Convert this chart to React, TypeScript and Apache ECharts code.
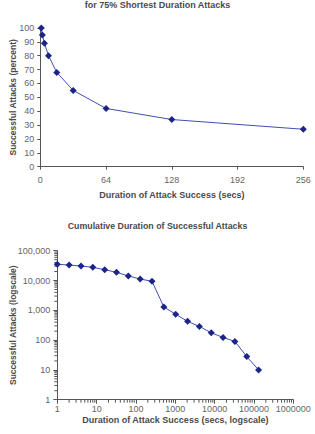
import React, { useEffect, useRef } from "react";
import * as echarts from "echarts";

// Top panel: share of successful attacks vs. duration (shortest 75%)
const durationSecs = [1, 2, 4, 8, 16, 32, 64, 128, 256];
const successPercent = [100, 95, 89, 80, 68, 55, 42, 34, 27];

// Bottom panel: cumulative duration of successful attacks (log-log)
const cumDurationSecs = [
  1, 2, 4, 8, 16, 32, 64, 128, 256, 512, 1024, 2048, 4096, 8192, 16384, 32768,
  65536, 131072,
];
const cumAttacks = [
  35000, 33000, 30700, 27700, 23000, 18800, 14200, 11200, 9400, 1290, 735, 425,
  288, 176, 123, 90, 28, 10,
];

// Log-axis minor tick values (2..9 within each decade)
const xDecades = [1, 10, 100, 1000, 10000, 100000];
const yDecades = [1, 10, 100, 1000, 10000];
const minorSteps = [2, 3, 4, 5, 6, 7, 8, 9];

const FONT = "Liberation Sans, Arial, sans-serif";
const AXIS_COLOR = "#555";
const LABEL_COLOR = "#666";
const NAME_COLOR = "#4a4a4a";
const LINE_COLOR = "#3f4fb3";
const MARKER_COLOR = "#1c2587";

const fmtThousands = (v: number) =>
  Math.round(v).toString().replace(/\B(?=(\d{3})+(?!\d))/g, ",");

export default function App() {
  const ref = useRef<HTMLDivElement>(null);

  useEffect(() => {
    if (!ref.current) return;
    const chart = echarts.init(ref.current, null, { renderer: "svg" });

    const xMinor: number[][] = [];
    xDecades.forEach((d) => minorSteps.forEach((s) => xMinor.push([d * s, 1])));
    const yMinor: number[][] = [];
    yDecades.forEach((d) => minorSteps.forEach((s) => yMinor.push([1, d * s])));

    const labelStyle = { color: LABEL_COLOR, fontSize: 9, fontFamily: FONT };
    const nameStyle = {
      color: NAME_COLOR,
      fontSize: 9,
      fontWeight: "bold" as const,
      fontFamily: FONT,
    };
    const yNameStyle = { ...nameStyle, fontSize: 8.5 };
    const axisLine = { lineStyle: { color: AXIS_COLOR, width: 1 } };

    chart.setOption({
      animation: false,
      textStyle: { fontFamily: FONT },
      title: [
        {
          text: "for 75% Shortest Duration Attacks",
          left: "center",
          top: 0,
          padding: 0,
          textStyle: nameStyle,
        },
        {
          text: "Cumulative Duration of Successful Attacks",
          left: "center",
          top: 221,
          padding: 0,
          textStyle: { ...nameStyle, fontSize: 8.8 },
        },
      ],
      grid: [
        { left: 40.3, right: 11.7, top: 28, height: 138.7, outerBoundsMode: "none", containLabel: false },
        { left: 57.3, right: 21.7, top: 250.7, height: 149, outerBoundsMode: "none", containLabel: false },
      ],
      xAxis: [
        {
          type: "value",
          gridIndex: 0,
          min: 0,
          max: 256,
          interval: 64,
          name: "Duration of Attack Success (secs)",
          nameLocation: "middle",
          nameGap: 24,
          nameMoveOverlap: false,
          nameTextStyle: nameStyle,
          axisLine,
          axisTick: { show: true, length: 3, lineStyle: { color: AXIS_COLOR } },
          axisLabel: { ...labelStyle, margin: 9 },
          splitLine: { show: false },
        },
        {
          type: "log",
          gridIndex: 1,
          logBase: 10,
          min: 1,
          max: 1000000,
          name: "Duration of Attack Success (secs, logscale)",
          nameLocation: "middle",
          nameGap: 16,
          nameMoveOverlap: false,
          nameTextStyle: nameStyle,
          axisLine,
          axisTick: { show: true, length: 4, lineStyle: { color: AXIS_COLOR } },
          axisLabel: { ...labelStyle, margin: 5, formatter: (v: number) => String(Math.round(v)) },
          splitLine: { show: false },
        },
      ],
      yAxis: [
        {
          type: "value",
          gridIndex: 0,
          min: 0,
          max: 100,
          interval: 10,
          name: "Successful Attacks (percent)",
          nameLocation: "middle",
          nameGap: 23,
          nameMoveOverlap: false,
          nameTextStyle: yNameStyle,
          axisLine: { show: true, ...axisLine },
          axisTick: { show: true, length: 3, lineStyle: { color: AXIS_COLOR } },
          axisLabel: { ...labelStyle, margin: 6 },
          splitLine: { show: false },
        },
        {
          type: "log",
          gridIndex: 1,
          logBase: 10,
          min: 1,
          max: 100000,
          name: "Successful Attacks (logscale)",
          nameLocation: "middle",
          nameGap: 40,
          nameMoveOverlap: false,
          nameTextStyle: yNameStyle,
          axisLine: { show: true, ...axisLine },
          axisTick: { show: true, length: 4, lineStyle: { color: AXIS_COLOR } },
          axisLabel: { ...labelStyle, margin: 7, formatter: fmtThousands },
          splitLine: { show: false },
        },
      ],
      series: [
        {
          type: "line",
          xAxisIndex: 0,
          yAxisIndex: 0,
          data: durationSecs.map((d, i) => [d, successPercent[i]]),
          symbol: "diamond",
          symbolSize: 7,
          lineStyle: { color: LINE_COLOR, width: 1 },
          itemStyle: { color: MARKER_COLOR },
          silent: true,
        },
        {
          type: "line",
          xAxisIndex: 1,
          yAxisIndex: 1,
          data: cumDurationSecs.map((d, i) => [d, cumAttacks[i]]),
          symbol: "diamond",
          symbolSize: 7,
          lineStyle: { color: LINE_COLOR, width: 1 },
          itemStyle: { color: MARKER_COLOR },
          silent: true,
        },
        {
          // minor ticks below the log x axis
          type: "custom",
          xAxisIndex: 1,
          yAxisIndex: 1,
          clip: false,
          silent: true,
          data: xMinor,
          renderItem: (params: any, api: any) => {
            const p = api.coord([api.value(0), api.value(1)]);
            return {
              type: "line",
              shape: { x1: p[0], y1: p[1], x2: p[0], y2: p[1] + 3 },
              style: { stroke: AXIS_COLOR, lineWidth: 1 },
            };
          },
        },
        {
          // minor ticks left of the log y axis
          type: "custom",
          xAxisIndex: 1,
          yAxisIndex: 1,
          clip: false,
          silent: true,
          data: yMinor,
          renderItem: (params: any, api: any) => {
            const p = api.coord([api.value(0), api.value(1)]);
            return {
              type: "line",
              shape: { x1: p[0] - 3, y1: p[1], x2: p[0], y2: p[1] },
              style: { stroke: AXIS_COLOR, lineWidth: 1 },
            };
          },
        },
      ],
    });

    return () => chart.dispose();
  }, []);

  return (
    <div
      ref={ref}
      style={{ position: "fixed", left: 0, top: 0, width: 315, height: 434, background: "#fff" }}
    />
  );
}
